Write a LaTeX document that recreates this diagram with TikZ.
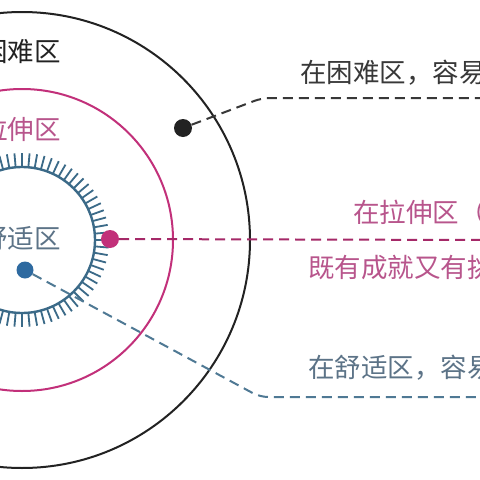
\documentclass[tikz,border=0pt]{standalone}
\usepackage{fontspec}
\setmainfont{Noto Sans CJK SC}
\usepackage{xcolor}
\usetikzlibrary{calc}
\definecolor{hardc}{HTML}{222222}
\definecolor{stretchc}{HTML}{C2307A}
\definecolor{stretcht}{HTML}{B8558C}
\definecolor{comfc}{HTML}{3B6A88}
\definecolor{comfd}{HTML}{2E6AA0}
\definecolor{comft}{HTML}{5C7387}
\tikzstyle{dot}=[shape=circle, inner sep=0pt, minimum size=18pt]
\tikzstyle{zone}=[inner sep=0pt, font=\fontsize{26.5}{30}\selectfont]
\tikzstyle{link}=[line width=2pt, dash pattern=on 10pt off 6pt, rounded corners=8pt]
\tikzstyle{ring}=[line width=2pt]

\begin{document}
\begin{tikzpicture}[x=1pt,y=-1pt]
            \useasboundingbox (0,0) rectangle (480,480);
            \clip (0,0) rectangle (480,480);
            \fill[white] (0,0) rectangle (480,480);
            \coordinate (c) at (22,240);
            \draw[ring, hardc] (c) circle[radius=228pt];
            \draw[ring, stretchc] (c) circle[radius=151pt];
            \draw[line width=2.4pt, comfc] (c) circle[radius=73pt];
            \foreach \a in {0,5,...,355}
                \draw[line width=1.8pt, comfc] ($(c)+(\a:73)$) -- ($(c)+(\a:87)$);
            \node[zone, text=hardc, anchor=east] (hardl) at (61,52) {困难区};
            \node[zone, text=stretcht, anchor=east] (stretchl) at (61,129) {拉伸区};
            \node[zone, text=comft, anchor=east] (comfl) at (61,238) {舒适区};
            \node[dot, fill=hardc] (hdot) at (183,128) {};
            \node[dot, fill=stretchc] (sdot) at (110,239) {};
            \node[dot, fill=comfd, minimum size=17pt] (cdot) at (25,270) {};
            \coordinate (hbend) at (262,98);
            \coordinate (hend) at (484,98);
            \coordinate (send) at (484,240);
            \coordinate (cbend) at (260,397);
            \coordinate (cend) at (484,397);
            \draw[link, hardc!90] (hdot) -- (hbend) -- (hend);
            \draw[link, stretchc!85!black] (sdot) -- (send);
            \draw[link, comfc!90] (cdot) -- (cbend) -- (cend);
            \node[zone, text=hardc!90, anchor=west] (hardt) at (300,73) {在困难区，容易焦虑};
            \node[zone, text=stretcht, anchor=west] (stretcht1) at (353,212) {在拉伸区（};
            \node[zone, text=stretcht, anchor=west] (stretcht2) at (308,267) {既有成就又有挑战};
            \node[zone, text=comft, anchor=west] (comft1) at (308,368) {在舒适区，容易懈怠};
	    \end{tikzpicture}
\end{document}
